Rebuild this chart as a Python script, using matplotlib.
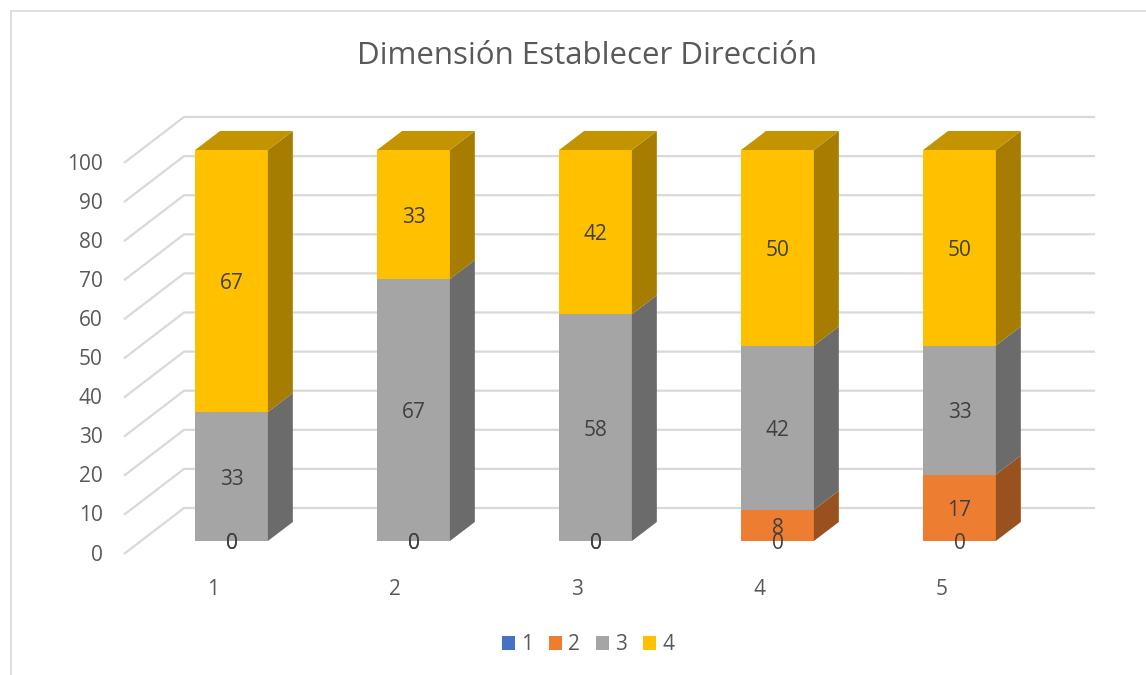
import matplotlib.pyplot as plt
from matplotlib.patches import Polygon, Patch, Rectangle
import numpy as np

# ---------------------------
# Data
# ---------------------------
categories = ["1", "2", "3", "4", "5"]
series_names = ["1", "2", "3", "4"]
s1 = [0, 0, 0, 0, 0]
s2 = [0, 0, 0, 8, 17]
s3 = [33, 67, 58, 42, 33]
s4 = [67, 33, 42, 50, 50]
series = [s1, s2, s3, s4]
colors = ["#4472C4", "#ED7D31", "#A5A5A5", "#FFC000"]
yticks = list(range(0, 101, 10))

title = "Dimensión Establecer Dirección"

# ---------------------------
# Pseudo-3D geometry (data units)
# ---------------------------
W, H = 1146, 675
bar_w = 0.40
bar_dx, bar_dy = 0.137, 4.86          # bar depth
wall_front_x, wall_front_dy = -0.591, -3.32
wall_back_x, wall_back_dy = -0.261, 8.44
wall_right_x = 4.745
text_col = "#595959"
grid_col = "#D9D9D9"
font = "Open Sans"


def shade(c, f):
    r, g, b = [int(c[i:i + 2], 16) / 255 for i in (1, 3, 5)]
    return (r * f, g * f, b * f)


fig = plt.figure(figsize=(W / 100, H / 100), dpi=100)
ax = fig.add_axes([0, 0, 1, 1])
ax.set_xlim(-231.5 / 182, (W - 231.5) / 182)
ax.set_ylim((541 - H) / 3.91, 541 / 3.91)
ax.axis("off")

# chart border
fig.patches.append(Rectangle((11 / W, -0.1), 1.2, 1 - 11 / H + 0.1,
                             transform=fig.transFigure, fill=False,
                             edgecolor=grid_col, lw=1.2))

# gridlines: side wall diagonal + back wall horizontal
for t in yticks:
    ax.plot([wall_front_x, wall_back_x, wall_right_x],
            [t + wall_front_dy, t + wall_back_dy, t + wall_back_dy],
            color=grid_col, lw=1.6, zorder=1, solid_capstyle="butt")
    ax.text(-0.707, t - 3.6, str(t), ha="right", va="center",
            fontsize=15, color=text_col, family=font)

# bars
x = np.arange(len(categories))
for i in x:
    bottom = 0
    left, right = i - bar_w / 2, i + bar_w / 2
    tops = []
    for k, vals in enumerate(series):
        v = vals[i]
        if v > 0:
            ax.add_patch(Polygon([(left, bottom), (right, bottom),
                                  (right, bottom + v), (left, bottom + v)],
                                 closed=True, facecolor=colors[k],
                                 edgecolor="none", zorder=3))
            ax.add_patch(Polygon([(right, bottom), (right + bar_dx, bottom + bar_dy),
                                  (right + bar_dx, bottom + v + bar_dy), (right, bottom + v)],
                                 closed=True, facecolor=shade(colors[k], 0.65),
                                 edgecolor="none", zorder=3))
            tops.append(k)
        bottom += v
    kt = tops[-1]
    ax.add_patch(Polygon([(left, bottom), (right, bottom),
                          (right + bar_dx, bottom + bar_dy), (left + bar_dx, bottom + bar_dy)],
                         closed=True, facecolor=shade(colors[kt], 0.77),
                         edgecolor="none", zorder=3))

    # data labels (zero-height segments overlap at the base, as in the original)
    bottom = 0
    for k, vals in enumerate(series):
        v = vals[i]
        ax.text(i, bottom + v / 2 - 0.7, str(v), ha="center", va="center",
                fontsize=15, color="#404040", family=font, zorder=5)
        bottom += v

    ax.text(i - 0.1, -12.3, categories[i], ha="center", va="center",
            fontsize=15, color=text_col, family=font)

fig.text(587 / W, 1 - 56 / H, title, ha="center", va="center",
         fontsize=22.5, color=text_col, family=font)

handles = [Patch(facecolor=c, edgecolor="none") for c in colors]
leg = fig.legend(handles, series_names, loc="center", bbox_to_anchor=(588 / W, 1 - 645 / H),
                 ncol=4, frameon=False, handlelength=0.63, handleheight=0.63,
                 handletextpad=0.3, columnspacing=0.75,
                 prop={"family": font, "size": 15})
for txt in leg.get_texts():
    txt.set_color(text_col)

fig.savefig("out.png", dpi=100, facecolor="white")
